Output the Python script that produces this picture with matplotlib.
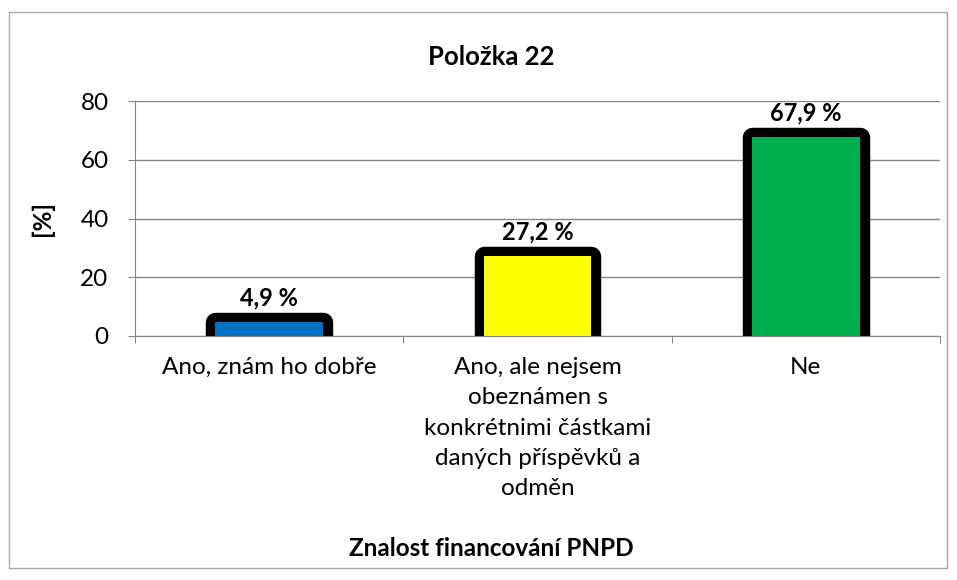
import matplotlib
matplotlib.use("Agg")
import matplotlib.pyplot as plt
from matplotlib.patches import Rectangle

# data
categories = ["Ano, znám ho dobře",
              "Ano, ale nejsem\nobeznámen s\nkonkrétnimi částkami\ndaných příspěvků a\nodměn",
              "Ne"]
values = [4.9, 27.2, 67.9]
labels = ["4,9 %", "27,2 %", "67,9 %"]
colors = ["#0070C0", "#FFFF00", "#00B050"]

plt.rcParams['font.family'] = ['Lato', 'DejaVu Sans']
W, H = 957, 580
fig = plt.figure(figsize=(W / 100, H / 100), dpi=100)

# outer chart border
fig.patches.append(Rectangle((9 / W, 1 - 568 / H), 938 / W, 556 / H, transform=fig.transFigure,
                             fill=False, edgecolor="#A6A6A6", linewidth=1))

ax = fig.add_axes([135 / W, 1 - 336 / H, 805 / W, (336 - 101) / H])
x = range(len(categories))
# thick black border drawn outside the fill (clipped at the axis line)
ax.bar(x, values, width=0.40, color="black", edgecolor="black",
       linewidth=14, joinstyle="round", zorder=3)
bars = ax.bar(x, values, width=0.40, color=colors, linewidth=0, zorder=4)
for b, lab in zip(bars, labels):
    ax.annotate(lab, (b.get_x() + b.get_width() / 2, b.get_height()), xytext=(0, 9),
                textcoords="offset points", ha="center", va="bottom",
                fontsize=17, fontweight="bold")

ax.set_xlim(-0.5, 2.5)
ax.set_ylim(0, 80)
ax.set_yticks([0, 20, 40, 60, 80])
ax.set_xticks([-0.5, 0.5, 1.5, 2.5], minor=False)
ax.set_xticklabels([])
ax.set_xticks(list(x), minor=True)
ax.set_xticklabels(categories, minor=True, fontsize=17.5, linespacing=1.55, va="top")
ax.tick_params(axis="x", which="minor", length=0, pad=15)
ax.tick_params(axis="x", which="major", length=5, color="#868686")
ax.tick_params(axis="y", length=5, color="#868686", labelsize=17.5, pad=14)
ax.grid(axis="y", color="#868686", linewidth=1, zorder=0)
ax.set_axisbelow(True)
for s in ["top", "right"]:
    ax.spines[s].set_visible(False)
for s in ["left", "bottom"]:
    ax.spines[s].set_color("#868686")
    ax.spines[s].set_zorder(5)

fig.text(491 / W, 1 - 57 / H, "Položka 22", ha="center", va="center",
         fontsize=18.5, fontweight="bold")
fig.text(491 / W, 1 - 548 / H, "Znalost financování PNPD", ha="center", va="center",
         fontsize=17.5, fontweight="bold")
fig.text(42 / W, 1 - 218 / H, "[%]", ha="center", va="center", rotation=90,
         fontsize=17.5, fontweight="bold")

fig.savefig("out.png", dpi=100)
